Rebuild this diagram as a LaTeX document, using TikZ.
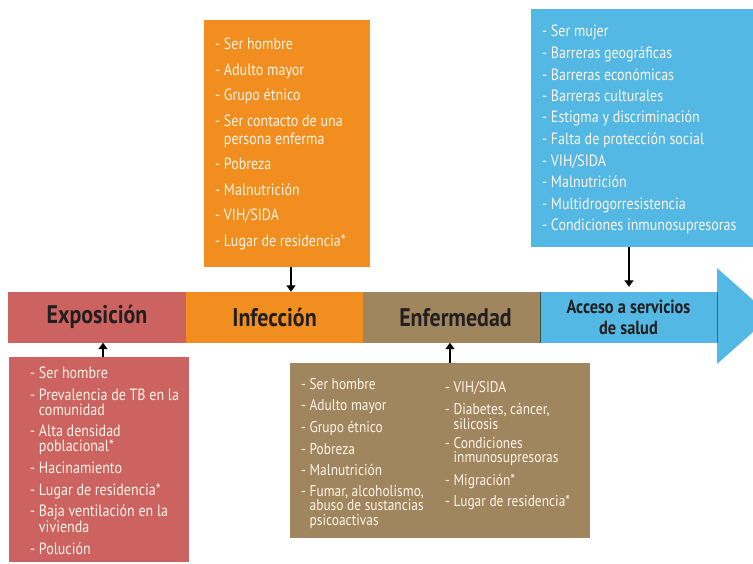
\documentclass[tikz,border=0pt]{standalone}
\usepackage{fontspec}
\setmainfont{PT Sans}[FakeStretch=0.86]
\usetikzlibrary{arrows.meta}
\definecolor{cred}{HTML}{CD6360}
\definecolor{corange}{HTML}{F18E1F}
\definecolor{cbrown}{HTML}{A0865F}
\definecolor{cblue}{HTML}{53B8E4}
\definecolor{ctext}{HTML}{FFF4E8}
\definecolor{cdark}{HTML}{231F20}
\newcommand\wraptwo[3]{\vtop{\baselineskip=#1\lineskiplimit=-50pt\lineskip=0pt\hbox{- #2}\hbox{\phantom{- }#3}}}
\newcommand\wrapthree[4]{\vtop{\baselineskip=#1\lineskiplimit=-50pt\lineskip=0pt\hbox{- #2}\hbox{\phantom{- }#3}\hbox{\phantom{- }#4}}}
\begin{document}
\begin{tikzpicture}[x=1pt,y=-1pt,
  seg/.style={draw=none,inner sep=0pt,minimum height=50.5pt,text=cdark,align=center},
  segtitle/.style={font=\fontsize{25.5}{28}\selectfont\bfseries},
  segsmall/.style={font=\fontsize{19}{21}\selectfont\bfseries},
  box/.style={draw=none,inner sep=0pt},
  item/.style={anchor=base west,inner sep=0pt,text=ctext,font=\fontsize{16.3}{18}\selectfont},
  itemc/.style={item,font=\fontsize{15.6}{18}\selectfont},
  arr/.style={line width=1.3pt,-{Triangle[width=9pt,length=6.5pt]}}]
\useasboundingbox (0,0) rectangle (753,563);
\clip (0,0) rectangle (753,563);
% band
\fill[cblue] (717,268) -- (771,316) -- (717,364) -- cycle;
\node[seg,fill=cred,minimum width=178pt,segtitle] (expo) at (97,317.25) {Exposición};
\node[seg,fill=corange,minimum width=177pt,segtitle] (infe) at (274.5,317.25) {Infección};
\node[seg,fill=cbrown,minimum width=177pt,segtitle] (enf) at (451.5,317.25) {\hspace{8pt}Enfermedad};
\node[seg,fill=cblue,minimum width=177pt,segsmall] (acc) at (628.5,317.25) {Acceso a servicios\\de salud};
\draw[line width=0.7pt,color=black!55!cbrown!60!teal] (enf.north east) -- (enf.south east);
\draw[line width=0.8pt,color=cblue!70!blue!80!black] (acc.north east) -- (acc.south east);
% boxes
\node[box,fill=corange,minimum width=166pt,minimum height=247pt] (infbox) at (287,143.5) {};
\node[box,fill=cblue,minimum width=222pt,minimum height=238pt] (bluebox) at (642,128) {};
\node[box,fill=cred,minimum width=180pt,minimum height=205pt] (redbox) at (99,459.5) {};
\node[box,fill=cbrown,minimum width=300pt,minimum height=175pt] (brbox) at (440,450.5) {};
% arrows
\draw[arr] ([xshift=4pt]infbox.south) -- ([xshift=16.5pt]enf.north -| infe.north);
\draw[arr] ([xshift=-13pt]bluebox.south) -- ([xshift=0.5pt,yshift=5pt]acc.north);
\draw[arr] ([xshift=4pt]redbox.north) -- ([xshift=6pt]expo.south);
\draw[arr] ([xshift=10pt]brbox.north) -- ([xshift=-1.5pt]enf.south);
% infection items
\node[item] (i1) at (215,49.3) {- Ser hombre};
\node[item] (i2) at (215,75) {- Adulto mayor};
\node[item] (i3) at (215,100) {- Grupo étnico};
\node[item] (i4) at (215,126) {\wraptwo{18.3pt}{Ser contacto de una}{persona enferma}};
\node[item] (i5) at (215,169.3) {- Pobreza};
\node[item] (i6) at (215,195.3) {- Malnutrición};
\node[item] (i7) at (215,220) {- VIH/SIDA};
\node[item] (i8) at (215,246.7) {- Lugar de residencia*};
% blue items
\node[item] (b1) at (542,36.7) {- Ser mujer};
\node[item] (b2) at (542,58.3) {- Barreras geográficas};
\node[item] (b3) at (542,80) {- Barreras económicas};
\node[item] (b4) at (542,101.7) {- Barreras culturales};
\node[item] (b5) at (542,122.7) {- Estigma y discriminación};
\node[item] (b6) at (542,144.3) {- Falta de protección social};
\node[item] (b7) at (542,166.7) {- VIH/SIDA};
\node[item] (b8) at (542,187.7) {- Malnutrición};
\node[item] (b9) at (542,209.3) {- Multidrogorresistencia};
\node[item] (b10) at (542,230.7) {- Condiciones inmunosupresoras};
% red items
\node[item] (r1) at (30,378.3) {- Ser hombre};
\node[item] (r2) at (30,400.7) {\wraptwo{14.8pt}{Prevalencia de TB en la}{comunidad}};
\node[item] (r3) at (30,436) {\wraptwo{15.7pt}{Alta densidad}{poblacional*}};
\node[item] (r4) at (30,473.3) {- Hacinamiento};
\node[item] (r5) at (30,495.7) {- Lugar de residencia*};
\node[item] (r6) at (30,516.7) {\wraptwo{16pt}{Baja ventilación en la}{vivienda}};
\node[item] (r7) at (30,554) {- Polución};
% brown items left
\node[itemc] (e1) at (301,389) {- Ser hombre};
\node[itemc] (e2) at (301,410.7) {- Adulto mayor};
\node[itemc] (e3) at (301,432) {- Grupo étnico};
\node[itemc] (e4) at (301,454) {- Pobreza};
\node[itemc] (e5) at (301,475) {- Malnutrición};
\node[itemc] (e6) at (301,496) {\wrapthree{14.5pt}{Fumar, alcoholismo,}{abuso de sustancias}{psicoactivas}};
% brown items right
\node[itemc] (f1) at (445,392.7) {- VIH/SIDA};
\node[itemc] (f2) at (445,414.5) {\wraptwo{14.5pt}{Diabetes, cáncer,}{silicosis}};
\node[itemc] (f3) at (445,448.3) {\wraptwo{14.5pt}{Condiciones}{inmunosupresoras}};
\node[itemc] (f4) at (445,485) {- Migración*};
\node[itemc] (f5) at (445,506.7) {- Lugar de residencia*};
\end{tikzpicture}
\end{document}
